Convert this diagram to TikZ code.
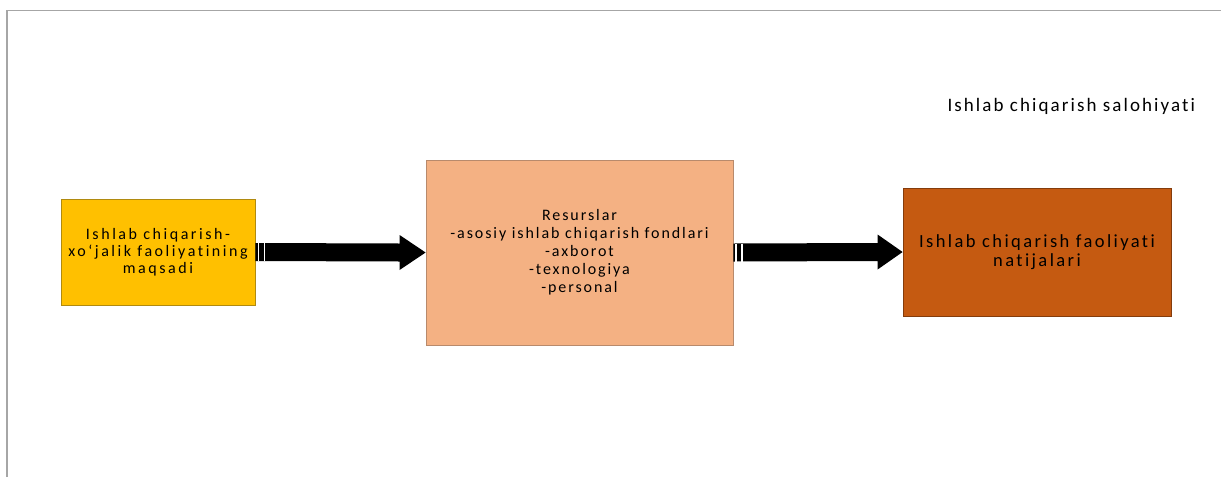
\documentclass[tikz,border=0pt]{standalone}
\usepackage{fontspec}
\setmainfont[Ligatures=NoCommon]{Carlito}
\usetikzlibrary{calc}
\definecolor{yel}{HTML}{FFC000}
\definecolor{yelb}{HTML}{B08A10}
\definecolor{pea}{HTML}{F4B183}
\definecolor{peab}{HTML}{B88A6C}
\definecolor{rus}{HTML}{C55A11}
\definecolor{rusb}{HTML}{843C0C}
\newcommand{\spaced}[1]{\addfontfeature{LetterSpace=#1}}
\begin{document}
\begin{tikzpicture}[x=1pt,y=-1pt,
  box/.style={draw, line width=0.8pt, align=center, inner sep=0pt, text=black},
  bigarrow/.style={fill=black},
  stripe/.style={draw=white, line width=1.3pt}]
\useasboundingbox (0,0) rectangle (1221,477);
\draw[gray!70, line width=1.3pt] (7,477) -- (7,10.5) -- (1221,10.5);
\node[box, fill=yel, draw=yelb, minimum width=194pt, minimum height=106pt,
      font=\fontsize{16}{17}\selectfont\spaced{16}] (a) at (158,252)
  {Ishlab chiqarish-\\xo‘jalik faoliyatining\\maqsadi};
\node[box, fill=pea, draw=peab, minimum width=307pt, minimum height=185pt,
      font=\fontsize{16}{18}\selectfont\spaced{12}] (b) at (579.5,252.5)
  {Resurslar\\-asosiy ishlab chiqarish fondlari\\-axborot\\-texnologiya\\-personal};
\node[box, fill=rus, draw=rusb, minimum width=268pt, minimum height=128pt,
      font=\fontsize{18.5}{19}\selectfont\spaced{13}] (c) at (1037,252)
  {Ishlab chiqarish faoliyati\\natijalari};
\node[font=\fontsize{19}{19}\selectfont\spaced{11}, anchor=west] (t) at (944,106) {Ishlab chiqarish salohiyati};
% arrow a -> b
\fill[bigarrow] ($(a.east)+(0,-9)$) -- ($(b.west)+(-26,-9)$) -- ($(b.west)+(-26,-17.5)$) -- (b.west)
  -- ($(b.west)+(-26,17.5)$) -- ($(b.west)+(-26,9)$) -- ($(a.east)+(0,9)$) -- cycle;
\draw[stripe] ($(a.east)+(3,-9)$) -- ($(a.east)+(3,9)$);
\draw[stripe] ($(a.east)+(9,-9)$) -- ($(a.east)+(9,9)$);
% arrow b -> c
\fill[bigarrow] ($(b.east)+(0,-9)$) -- ($(c.west)+(-25,-9)$) -- ($(c.west)+(-25,-17.5)$) -- (c.west)
  -- ($(c.west)+(-25,17.5)$) -- ($(c.west)+(-25,9)$) -- ($(b.east)+(0,9)$) -- cycle;
\draw[stripe] ($(b.east)+(2.5,-9)$) -- ($(b.east)+(2.5,9)$);
\draw[stripe] ($(b.east)+(8.5,-9)$) -- ($(b.east)+(8.5,9)$);
\end{tikzpicture}
\end{document}
